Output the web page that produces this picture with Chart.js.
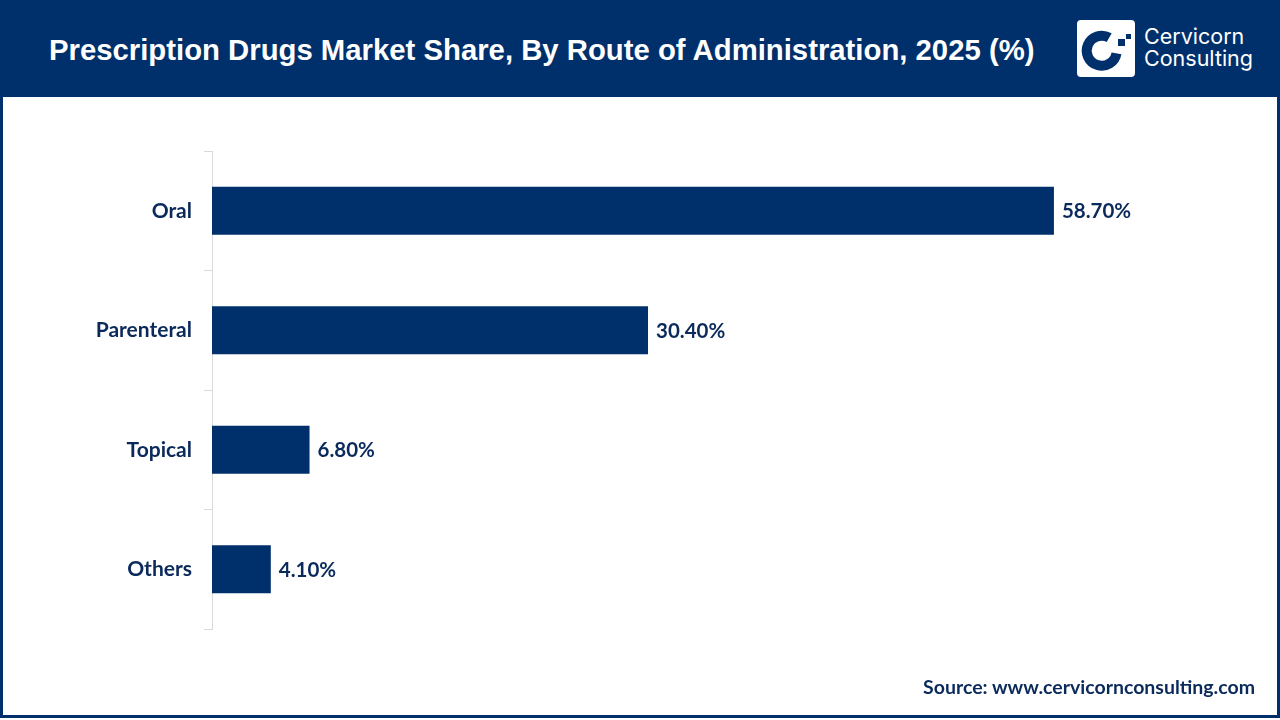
<!DOCTYPE html>
<html>
<head>
<meta charset="utf-8">
<script src="https://cdn.jsdelivr.net/npm/chart.js@4"></script>
<style>
  html, body { margin: 0; padding: 0; width: 1280px; height: 720px; overflow: hidden; background: #fff; }
  #frame { position: absolute; left: 0; top: 0; width: 1274px; height: 715px; border: 3px solid #00306b; border-top: none; box-sizing: content-box; }
  #header { position: absolute; left: 0; top: 0; width: 1280px; height: 97px; background: #00306b; }
  #title { position: absolute; left: 49px; top: 34px; color: #fff; font-family: "Liberation Sans", Arial, sans-serif; font-weight: bold; font-size: 29.3px; line-height: 1.117; white-space: nowrap; }
  #logo { position: absolute; left: 1077px; top: 20px; }
  #brand { position: absolute; left: 1144px; top: 25px; color: #fff; font-family: Inter, "Open Sans", sans-serif; font-size: 21.5px; line-height: 22px; }
  #chartwrap { position: absolute; left: 3px; top: 97px; width: 1274px; height: 618px; }
  #source { position: absolute; right: 25px; top: 675px; color: #0b2a5c; font-family: Lato, sans-serif; font-weight: bold; font-size: 19.5px; }
</style>
</head>
<body>
<div id="frame"></div>
<div id="header"></div>
<div id="title">Prescription Drugs Market Share, By Route of Administration, 2025 (%)</div>
<svg id="logo" width="58" height="57" viewBox="0 0 58 57">
  <rect x="0" y="0" width="58" height="57" rx="4" fill="#fff"/>
  <path d="M 32.2 17.7 A 15 15 0 1 0 39.5 33.3" fill="none" stroke="#00306b" stroke-width="10"/>
  <rect x="41" y="19" width="7" height="7" fill="#00306b"/>
  <rect x="49" y="14" width="5" height="5" fill="#00306b"/>
</svg>
<div id="brand">Cervicorn<br>Consulting</div>
<div id="chartwrap"><canvas id="c"></canvas></div>
<div id="source">Source: www.cervicornconsulting.com</div>
<script>
const categories = ["Oral", "Parenteral", "Topical", "Others"];
const shares = [58.7, 30.4, 6.8, 4.1];
const valueLabels = ["58.70%", "30.40%", "6.80%", "4.10%"];

const barColor = "#00306b";
const textColor = "#0b2a5c";

const dataLabelPlugin = {
  id: "dataLabels",
  afterDatasetsDraw(chart) {
    const ctx = chart.ctx;
    const meta = chart.getDatasetMeta(0);
    ctx.save();
    ctx.font = "bold 20.5px Lato, sans-serif";
    ctx.fillStyle = textColor;
    ctx.textAlign = "left";
    ctx.textBaseline = "middle";
    meta.data.forEach((bar, i) => {
      ctx.fillText(valueLabels[i], bar.x + 8, bar.y + 1);
    });
    ctx.restore();
  }
};

new Chart(document.getElementById("c"), {
  type: "bar",
  data: {
    labels: categories,
    datasets: [{
      data: shares,
      backgroundColor: barColor,
      borderWidth: 0,
      barPercentage: 0.8,
      categoryPercentage: 0.5
    }]
  },
  options: {
    indexAxis: "y",
    responsive: true,
    maintainAspectRatio: false,
    animation: false,
    layout: { padding: { top: 54, bottom: 86, left: 0, right: 61 } },
    plugins: { legend: { display: false }, tooltip: { enabled: false } },
    scales: {
      x: { display: false, min: 0, max: 70 },
      y: {
        afterFit(scale) { scale.width = 209; },
        border: { display: true, color: "#d9d9d9", width: 1 },
        grid: { drawOnChartArea: false, drawTicks: true, tickLength: 8, color: "#d9d9d9", offset: true },
        ticks: { color: textColor, padding: 12, font: { family: "Lato, sans-serif", weight: "bold", size: 21 } }
      }
    }
  },
  plugins: [dataLabelPlugin]
});
</script>
</body>
</html>
